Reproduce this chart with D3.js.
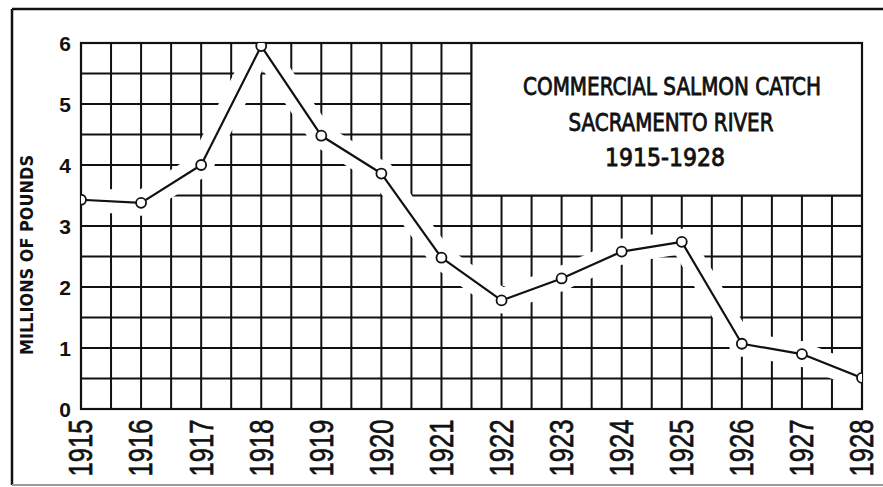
<!DOCTYPE html>
<html>
<head>
<meta charset="utf-8">
<script src="https://cdn.jsdelivr.net/npm/d3@7"></script>
<style>
  html, body { margin: 0; padding: 0; background: #fff; }
  svg { display: block; }
  text { font-family: "Liberation Sans Narrow", "DejaVu Sans Condensed", sans-serif; fill: #111; }
</style>
</head>
<body>
<svg id="chart" width="883" height="487"></svg>
<script>
// ---- data ----
const years = [1915, 1916, 1917, 1918, 1919, 1920, 1921, 1922, 1923, 1924, 1925, 1926, 1927, 1928];
const catchMillions = [3.43, 3.38, 4.0, 5.95, 4.48, 3.86, 2.48, 1.78, 2.14, 2.58, 2.74, 1.07, 0.9, 0.51];
const yTickValues = [0, 1, 2, 3, 4, 5, 6];
const xTickLabels = ["1915","1916","1917","1918","1919","1920","1921","1922","1923","1924","1925","1926","1927","1928"];
const titleLines = ["COMMERCIAL SALMON CATCH", "SACRAMENTO RIVER", "1915-1928"];
const yAxisTitle = "MILLIONS OF POUNDS";

// ---- layout ----
const W = 883, H = 487;
const plot = { left: 81, right: 862, top: 43, bottom: 409 };
const ink = "#111";

const svg = d3.select("#chart");

const x = d3.scaleLinear().domain([1915, 1928]).range([plot.left, plot.right]);
const y = d3.scaleLinear().domain([0, 6]).range([plot.bottom, plot.top]);

// outer frame (top, left, bottom)
svg.append("line").attr("x1", 12).attr("x2", W).attr("y1", 9).attr("y2", 9)
  .attr("stroke", ink).attr("stroke-width", 2.5);
svg.append("line").attr("x1", 12).attr("x2", 12).attr("y1", 9).attr("y2", 485)
  .attr("stroke", ink).attr("stroke-width", 2.5);
svg.append("line").attr("x1", 12).attr("x2", W).attr("y1", 485).attr("y2", 485)
  .attr("stroke", "#999").attr("stroke-width", 2);

// clip for plot
svg.append("clipPath").attr("id", "plotclip").append("rect")
  .attr("x", plot.left).attr("y", plot.top)
  .attr("width", plot.right - plot.left).attr("height", plot.bottom - plot.top);

const g = svg.append("g");

// grid (half-unit steps)
const gx = x.ticks(26);
const gy = y.ticks(12);
g.append("g").selectAll("line").data(gx).join("line")
  .attr("x1", d => x(d)).attr("x2", d => x(d))
  .attr("y1", plot.top).attr("y2", plot.bottom)
  .attr("stroke", ink).attr("stroke-width", 2);
g.append("g").selectAll("line").data(gy).join("line")
  .attr("x1", plot.left).attr("x2", plot.right)
  .attr("y1", d => y(d)).attr("y2", d => y(d))
  .attr("stroke", ink).attr("stroke-width", 2);

// title box (covers grid in upper right)
const boxLeft = x(1921.5), boxBottom = y(3.5);
g.append("rect")
  .attr("x", boxLeft).attr("y", plot.top)
  .attr("width", plot.right - boxLeft).attr("height", boxBottom - plot.top)
  .attr("fill", "#fff").attr("stroke", ink).attr("stroke-width", 2);

const pts = years.map((yr, i) => [yr, catchMillions[i]]);
const lineGen = d3.line().x(d => x(d[0])).y(d => y(d[1]));

// white halo around data line (cuts the grid lines)
const halo = g.append("g").attr("clip-path", "url(#plotclip)");
halo.append("path").datum(pts).attr("d", lineGen)
  .attr("fill", "none").attr("stroke", "#fff").attr("stroke-width", 24)
  .attr("stroke-linejoin", "round");
halo.selectAll("circle").data(pts).join("circle")
  .attr("cx", d => x(d[0])).attr("cy", d => y(d[1])).attr("r", 13).attr("fill", "#fff");

// plot border
g.append("rect")
  .attr("x", plot.left).attr("y", plot.top)
  .attr("width", plot.right - plot.left).attr("height", plot.bottom - plot.top)
  .attr("fill", "none").attr("stroke", ink).attr("stroke-width", 2.2);

// data line + markers
const dl = g.append("g").attr("clip-path", "url(#plotclip)");
dl.append("path").datum(pts).attr("d", lineGen)
  .attr("fill", "none").attr("stroke", ink).attr("stroke-width", 2.2)
  .attr("stroke-linejoin", "round");
dl.selectAll("circle").data(pts).join("circle")
  .attr("cx", d => x(d[0])).attr("cy", d => y(d[1])).attr("r", 5)
  .attr("fill", "#fff").attr("stroke", ink).attr("stroke-width", 1.8);

// y axis labels
const yAxis = d3.axisLeft(y).tickValues(yTickValues).tickSize(0).tickPadding(0)
  .tickFormat(d3.format("d"));
const yg = svg.append("g").attr("transform", `translate(${plot.left - 16},0)`).call(yAxis);
yg.select(".domain").remove();
yg.selectAll("text")
  .attr("text-anchor", "middle").attr("dy", "0.36em")
  .style("font-family", '"Liberation Sans Narrow", sans-serif')
  .style("font-weight", "bold").style("font-size", "21px").attr("fill", ink);

// x axis labels (rotated)
const xAxis = d3.axisBottom(x).tickValues(years).tickSize(0)
  .tickFormat((d, i) => xTickLabels[i]);
const xg = svg.append("g").attr("transform", `translate(0,${plot.bottom})`).call(xAxis);
xg.select(".domain").remove();
xg.selectAll(".tick text")
  .attr("text-anchor", "middle")
  .attr("transform", "translate(-1,39) rotate(-90)")
  .attr("x", 0).attr("y", 0).attr("dy", "0.35em")
  .attr("textLength", 57).attr("lengthAdjust", "spacingAndGlyphs")
  .style("font-family", '"Liberation Sans Narrow", sans-serif')
  .style("font-size", "34px").attr("fill", ink)
  .attr("stroke", ink).attr("stroke-width", 0.7);

// y axis title
svg.append("text")
  .attr("transform", "translate(33,255) rotate(-90)")
  .attr("text-anchor", "middle")
  .attr("textLength", 200).attr("lengthAdjust", "spacingAndGlyphs")
  .style("font-size", "18px").style("font-weight", "bold")
  .text(yAxisTitle);

// title text
const tcx = [672, 671, 665];
const tby = [95, 131, 166];
const tlen = [298, 205, 120];
titleLines.forEach((t, i) => {
  svg.append("text")
    .attr("x", tcx[i]).attr("y", tby[i])
    .attr("text-anchor", "middle")
    .attr("textLength", tlen[i]).attr("lengthAdjust", "spacingAndGlyphs")
    .style("font-size", "24px")
    .attr("stroke", ink).attr("stroke-width", 0.8)
    .text(t);
});
</script>
</body>
</html>
